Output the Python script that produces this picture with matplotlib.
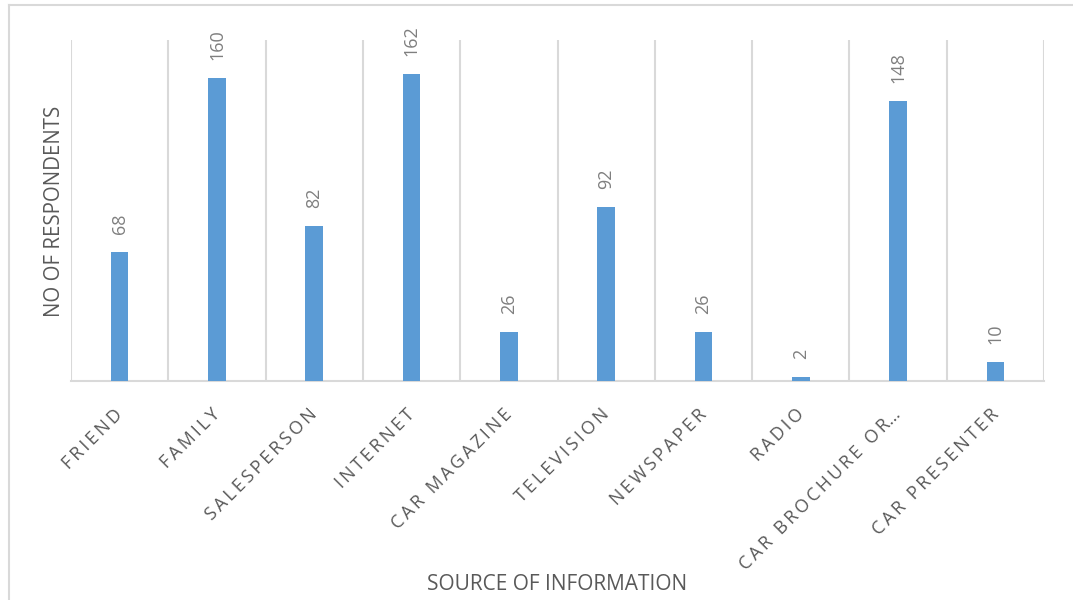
import matplotlib
matplotlib.use("Agg")
import matplotlib.pyplot as plt
from matplotlib.lines import Line2D
import matplotlib.transforms as mtransforms

categories = ["FRIEND", "FAMILY", "SALESPERSON", "INTERNET", "CAR MAGAZINE",
              "TELEVISION", "NEWSPAPER", "RADIO", "CAR BROCHURE OR…", "CAR PRESENTER"]
values = [68, 160, 82, 162, 26, 92, 26, 2, 148, 10]
x_title = "SOURCE OF INFORMATION"
y_title = "NO OF RESPONDENTS"

plt.rcParams['font.family'] = ['Open Sans', 'DejaVu Sans']

W, H = 1073, 600
fig = plt.figure(figsize=(W / 100, H / 100), dpi=100)
ax = fig.add_axes([71 / W, 1 - 381 / H, (1044 - 71) / W, (381 - 40) / H])

grid_col = "#d9d9d9"
bar_col = "#5b9bd5"
txt_col = "#595959"

xs = list(range(len(categories)))
ax.bar(xs, values, width=0.18, color=bar_col, zorder=3)
ax.set_xlim(-0.5, len(categories) - 0.5)
ax.set_ylim(0, 180)

for b in [i - 0.5 for i in range(len(categories) + 1)]:
    ax.axvline(b, color=grid_col, lw=1.5, zorder=1)

for s in ["top", "right", "left"]:
    ax.spines[s].set_visible(False)
ax.spines["bottom"].set_color(grid_col)
ax.spines["bottom"].set_linewidth(1.5)
ax.set_yticks([])

def spaced(s):
    out = ""
    for i, ch in enumerate(s):
        if i > 0 and ch != "…":
            out += "\u2009"
        out += ch
    return out

ax.set_xticks(xs)
ax.set_xticklabels([spaced(c) for c in categories], rotation=45, ha="right", va="top",
                   rotation_mode="anchor", fontsize=13, color=txt_col)
ax.tick_params(axis="x", length=0, pad=14)
shift = mtransforms.ScaledTranslation(-6 / 100, -5 / 100, fig.dpi_scale_trans)
for lbl in ax.get_xticklabels():
    lbl.set_transform(lbl.get_transform() + shift)

for xi, v in zip(xs, values):
    ax.annotate(str(v), (xi, v), xytext=(0, 13), textcoords="offset points",
                rotation=90, ha="center", va="bottom", fontsize=13, color="#7f7f7f")

fig.text(55 / W, 1 - 211 / H, y_title, rotation=90, ha="center", va="center",
         fontsize=14.8, color=txt_col)
fig.text(557 / W, 1 - 585 / H, x_title, ha="center", va="center",
         fontsize=15, color=txt_col)

fig.add_artist(Line2D([9 / W, 9 / W], [0, 1 - 5 / H], color=grid_col, lw=1.5))
fig.add_artist(Line2D([9 / W, 1], [1 - 5 / H, 1 - 5 / H], color=grid_col, lw=1.5))

fig.savefig("out.png", dpi=100, facecolor="white")
